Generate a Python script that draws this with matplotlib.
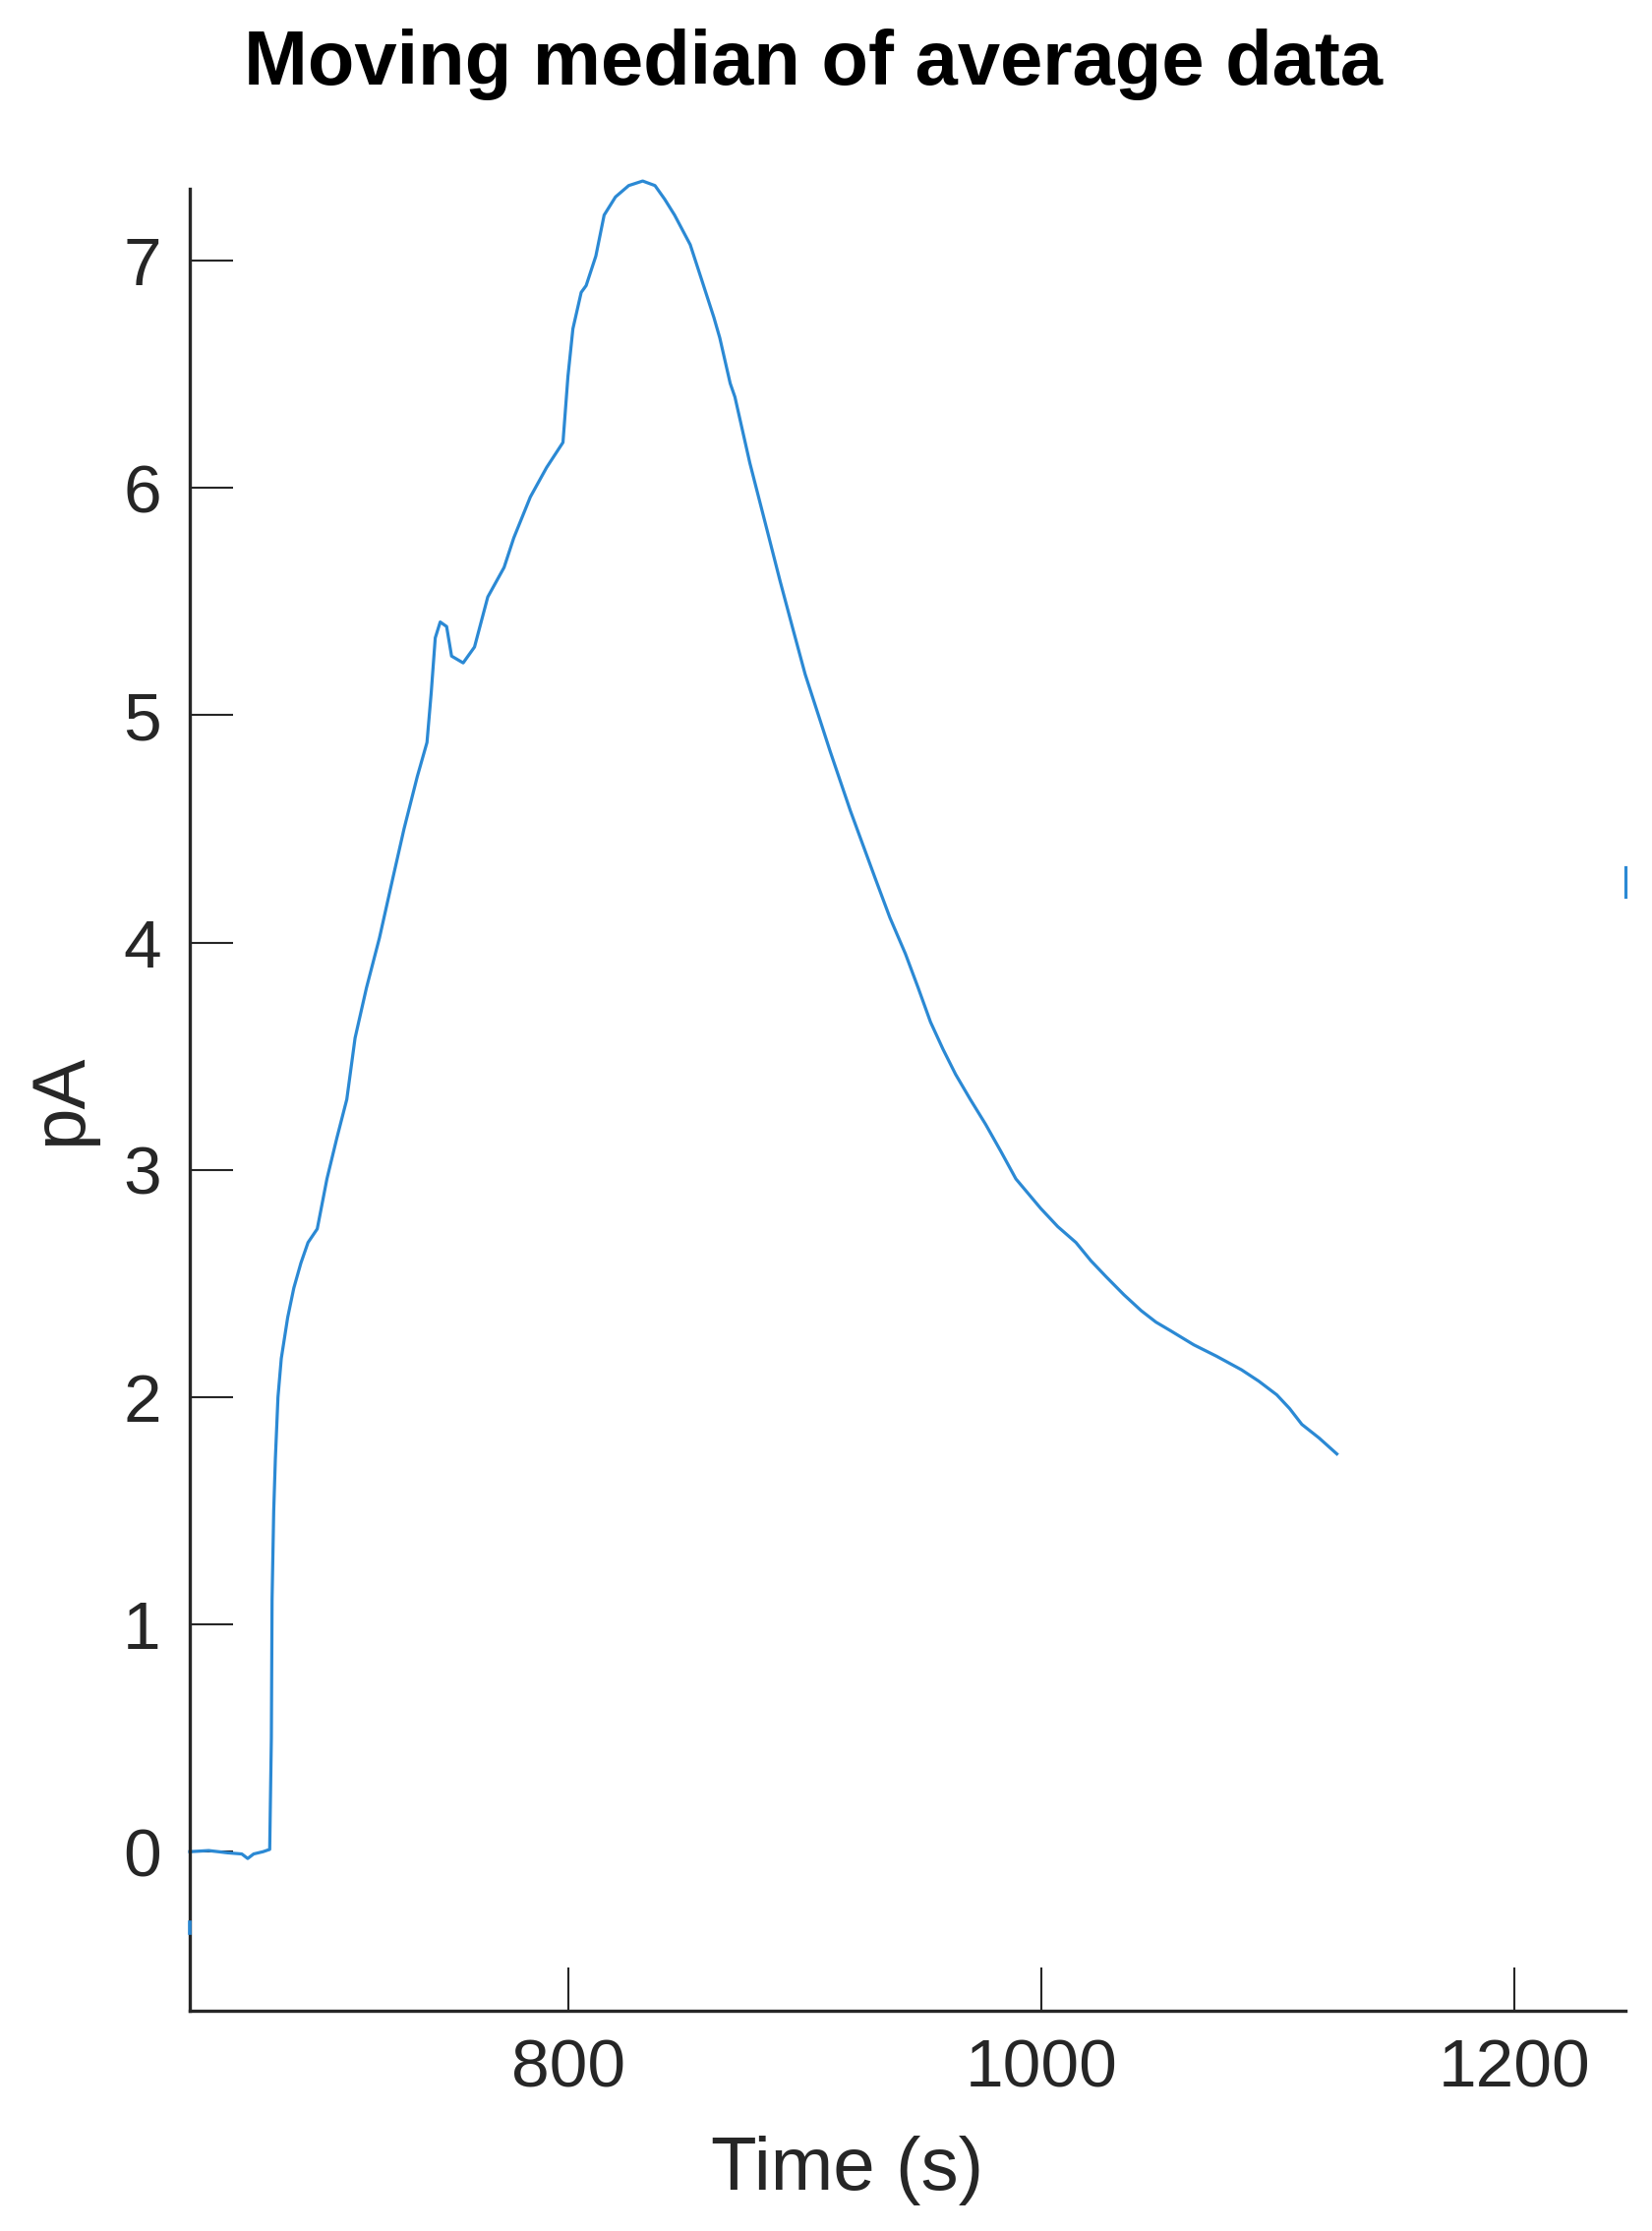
import matplotlib
matplotlib.use("Agg")
import matplotlib.pyplot as plt

plt.rcParams["font.family"] = ["Liberation Sans", "DejaVu Sans"]

# ---- data ----
time_s = [
    640, 648, 656, 662, 664.5, 667, 671, 673.8,
    674.5, 674.8, 675.5, 676.2, 677.3, 678.7, 681.4, 684, 687.0, 690, 693.9,
    698.0, 702.2, 706.4, 709.9, 714.7, 720.2, 725.8, 730.6, 736.2, 740.3,
    742.1, 743.8, 745.9, 748.6, 750.7, 755.6, 760.4, 766.0, 772.9, 777.0,
    784.0, 790.9, 797.8, 799.9, 802, 805.5, 807.6, 811.7, 815.2, 820, 825.6,
    831.5, 836.7, 840.8, 845, 851.6, 856.3, 861.6, 864.1, 868.5, 870.5,
    876.8, 884.2, 889.6, 895, 900.2, 905.5, 910.8, 919.3, 929.9, 936, 942.6,
    948, 953.2, 958.5, 963.8, 970, 976.5, 983, 989.3, 999.8, 1007, 1014.7,
    1021, 1027.4, 1035, 1042.3, 1048.5, 1055.0, 1064.5, 1074.1, 1084.7,
    1092, 1099.6, 1105, 1110.2, 1117.5, 1125.0,
]
current_pa = [
    0.0, 0.005, -0.005, -0.01, -0.03, -0.01, 0.0, 0.01,
    0.5, 1.11, 1.5, 1.73, 2.0, 2.17, 2.35, 2.48, 2.59, 2.68, 2.74,
    2.96, 3.14, 3.31, 3.58, 3.80, 4.02, 4.28, 4.50, 4.73, 4.88,
    5.10, 5.34, 5.41, 5.39, 5.26, 5.23, 5.30, 5.52, 5.65, 5.78,
    5.96, 6.09, 6.20, 6.49, 6.70, 6.86, 6.89, 7.02, 7.20, 7.28, 7.33,
    7.35, 7.33, 7.27, 7.20, 7.07, 6.92, 6.75, 6.66, 6.46, 6.40,
    6.11, 5.81, 5.59, 5.38, 5.18, 5.01, 4.84, 4.58, 4.28, 4.11, 3.95,
    3.80, 3.65, 3.53, 3.42, 3.31, 3.20, 3.08, 2.96, 2.83, 2.75, 2.68,
    2.60, 2.53, 2.45, 2.38, 2.33, 2.29, 2.23, 2.18, 2.12,
    2.07, 2.01, 1.95, 1.88, 1.82, 1.75,
]

# stray bits of trace visible on the axis edges
left_edge_t = [640, 640]
left_edge_pa = [-0.31, -0.36]
right_edge_t = [1247, 1247]
right_edge_pa = [4.20, 4.33]

x_ticks = [800, 1000, 1200]
y_ticks = [0, 1, 2, 3, 4, 5, 6, 7]

LINE = "#2b89d4"
AXC = "#262626"

fig = plt.figure(figsize=(16.81, 22.69), dpi=100)
ax = fig.add_axes([0.1148, 0.0987, 0.8685, 0.8167])

ax.plot(time_s, current_pa, color=LINE, linewidth=2.3, clip_on=False)
ax.plot(left_edge_t, left_edge_pa, color=LINE, linewidth=2.6, clip_on=False, zorder=5)
ax.plot(right_edge_t, right_edge_pa, color=LINE, linewidth=2.3, clip_on=False)

ax.set_xlim(640, 1247)
ax.set_ylim(-0.70, 7.316)
ax.set_xticks(x_ticks)
ax.set_yticks(y_ticks)

for side in ("top", "right"):
    ax.spines[side].set_visible(False)
for side in ("left", "bottom"):
    ax.spines[side].set_linewidth(2.4)
    ax.spines[side].set_color(AXC)

ax.tick_params(direction="in", length=32, width=1.5, color=AXC,
               labelsize=50, labelcolor=AXC)
ax.tick_params(axis="y", pad=21)
ax.tick_params(axis="x", pad=20)

ax.set_xlabel("Time (s)", fontsize=55, color=AXC)
ax.xaxis.set_label_coords(0.458, -0.0685)
ax.set_ylabel("pA", fontsize=55, color=AXC)
ax.yaxis.set_label_coords(-0.065, 0.5)

ax.set_title("Moving median of average data", fontsize=56, fontweight="bold",
             x=0.434, y=1.0526, color="black")

fig.savefig("out.png", dpi=100)
